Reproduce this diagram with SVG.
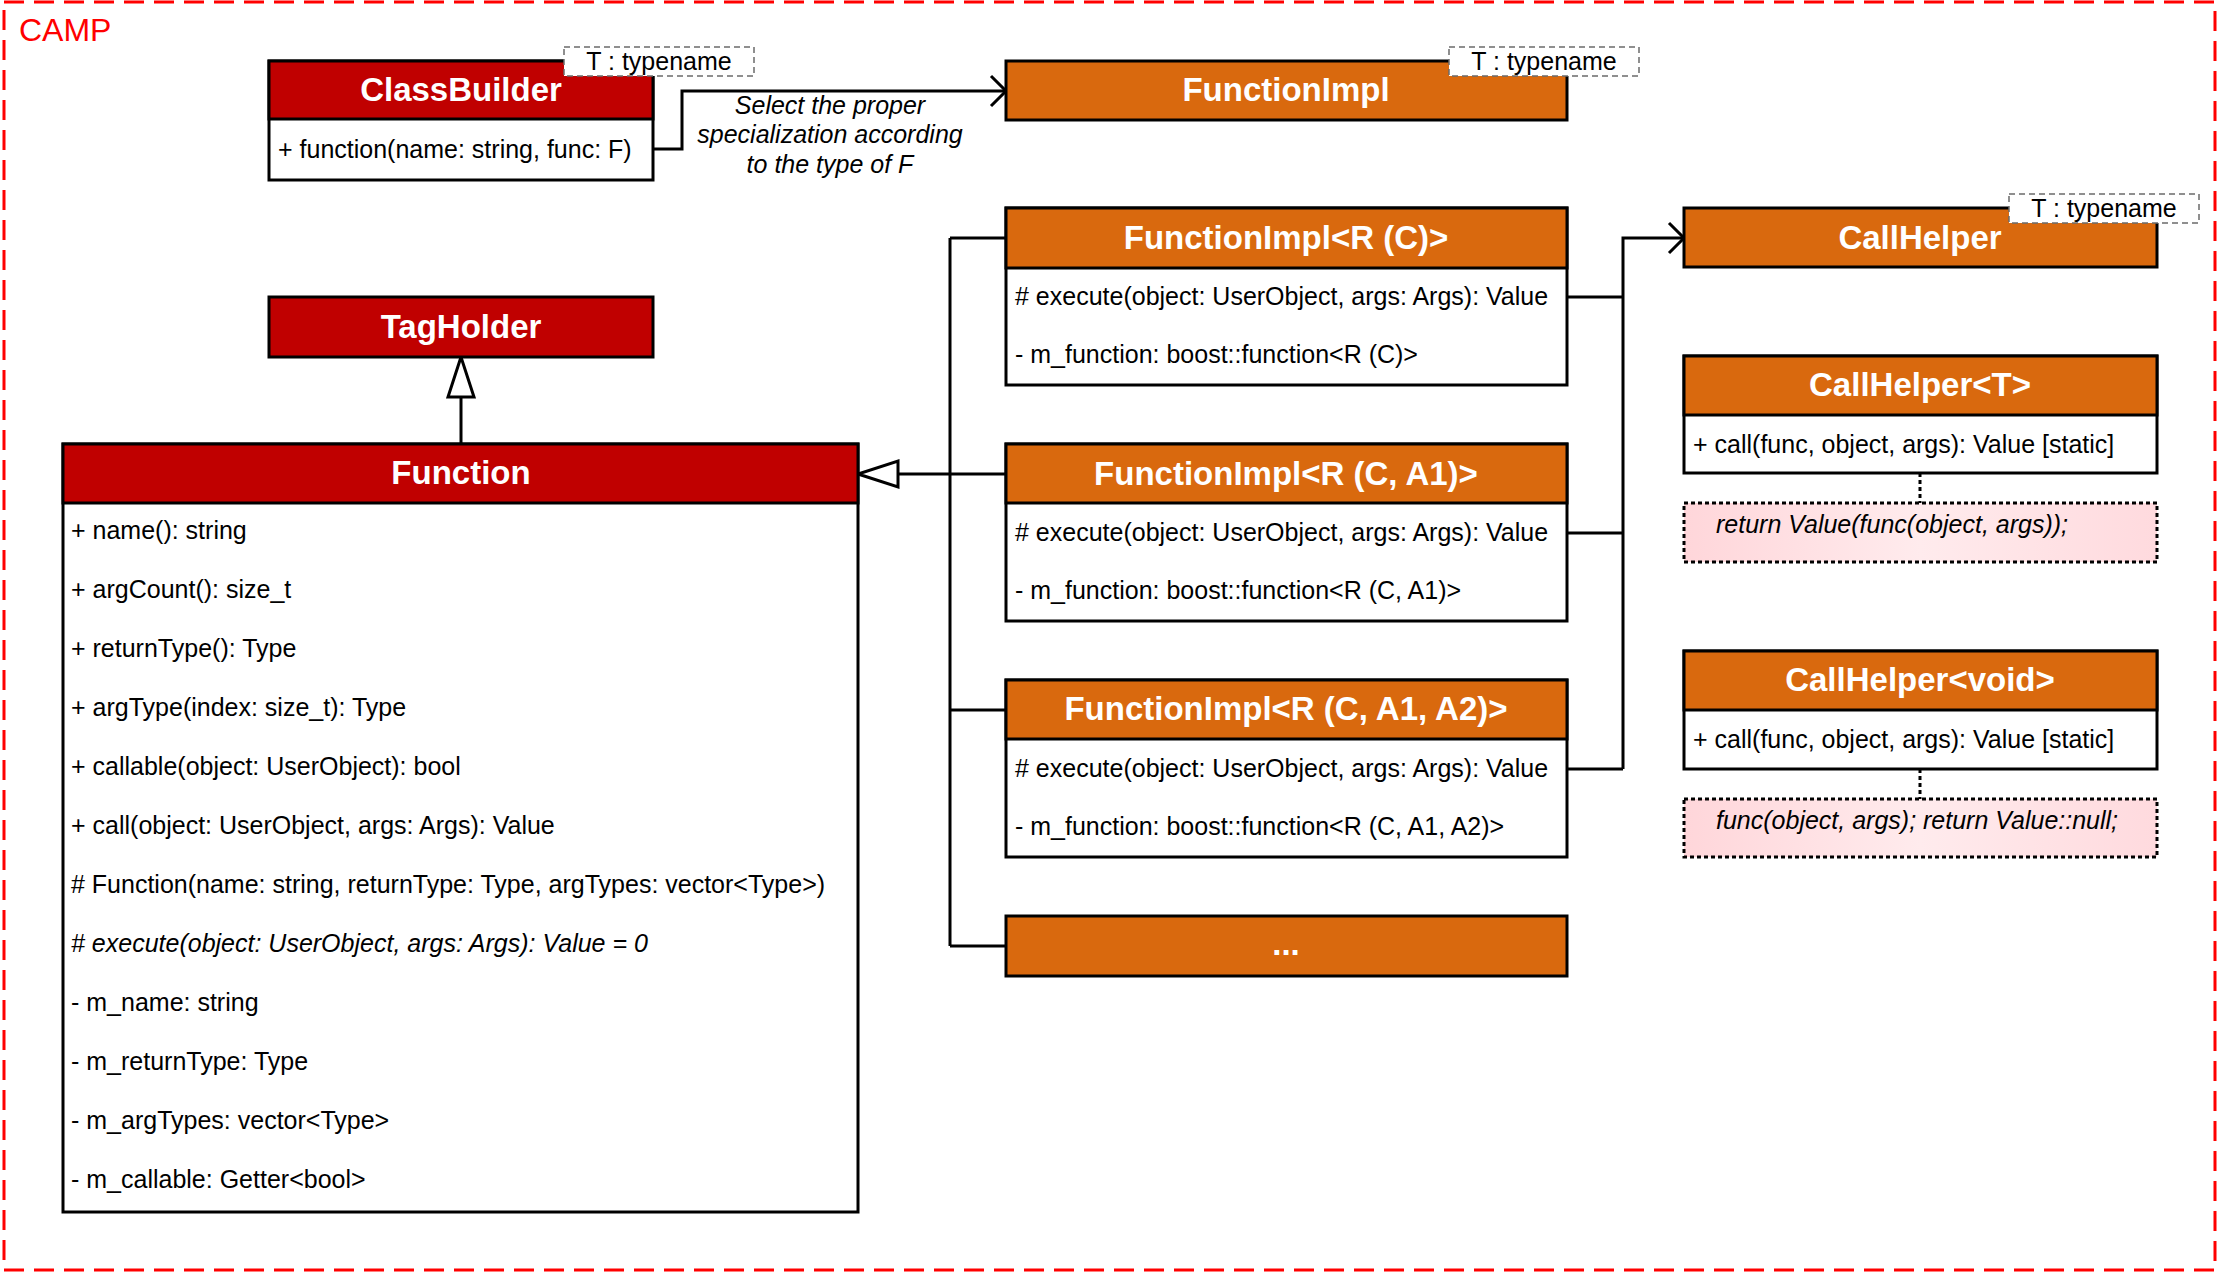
<svg xmlns="http://www.w3.org/2000/svg" width="2219" height="1272" viewBox="0 0 2219 1272">
  <defs>
    <style>
      text { font-family: "Liberation Sans", Arial, sans-serif; }
      .frame { fill: none; stroke: #FF0000; stroke-width: 3; stroke-dasharray: 20 10; }
      .pkg { font-size: 32px; fill: #FF0000; }
      .box { fill: #FFFFFF; stroke: #000; stroke-width: 3; }
      .red { fill: #C00000; stroke: #000; stroke-width: 3; }
      .org { fill: #D9690E; stroke: #000; stroke-width: 3; }
      .title { font-size: 33px; font-weight: bold; fill: #FFFFFF; text-anchor: middle; }
      .mem { font-size: 25px; fill: #000; }
      .it { font-style: italic; }
      .tpl { fill: #FFFFFF; stroke: #6B6B6B; stroke-width: 1.5; stroke-dasharray: 6 4; }
      .tpl-t { font-size: 25px; fill: #000; text-anchor: middle; }
      .note { fill: url(#noteFill); stroke: #000; stroke-width: 3; stroke-dasharray: 4 3; }
      .link { fill: none; stroke: #000; stroke-width: 3; }
      .dot { fill: none; stroke: #000; stroke-width: 3; stroke-dasharray: 4 3; }
      .label { font-size: 25px; font-style: italic; fill: #000; text-anchor: middle; }
    </style>
    <linearGradient id="noteFill" x1="0" y1="0" x2="1" y2="0">
      <stop offset="0" stop-color="#FFD6DA"/>
      <stop offset="0.5" stop-color="#FFEBED"/>
      <stop offset="1" stop-color="#FFDADE"/>
    </linearGradient>
    <!-- open arrowhead (dependency) -->
    <marker id="open" viewBox="-18 -18 20 36" refX="0" refY="0" markerWidth="20" markerHeight="36" markerUnits="userSpaceOnUse" orient="auto" overflow="visible">
      <path d="M-15,-15 L0,0 L-15,15" fill="none" stroke="#000" stroke-width="3"/>
    </marker>
    <!-- hollow triangle (generalization) -->
    <marker id="inherit" viewBox="-44 -16 46 32" refX="0" refY="0" markerWidth="46" markerHeight="32" markerUnits="userSpaceOnUse" orient="auto" overflow="visible">
      <path d="M0,0 L-40,-13 L-40,13 Z" fill="#FFFFFF" stroke="#000" stroke-width="3"/>
    </marker>
  </defs>

  <rect width="2219" height="1272" fill="#FFFFFF"/>

  <!-- package frame -->
  <g id="camp">
    <rect class="frame" x="4" y="2" width="2211" height="1268"/>
    <text class="pkg" x="19" y="41">CAMP</text>
  </g>

  <!-- connectors -->
  <g id="connectors">
    <!-- ClassBuilder::function selects a FunctionImpl specialization -->
    <path class="link" d="M653,149 H682 V91 H1006" marker-end="url(#open)"/>
    <!-- Function generalizes TagHolder -->
    <path class="link" d="M461,444 V357" marker-end="url(#inherit)"/>
    <!-- FunctionImpl specializations derive from Function -->
    <path class="link" d="M950,474 H858" marker-end="url(#inherit)"/>
    <path class="link" d="M950,238 V946"/>
    <path class="link" d="M950,238 H1006 M950,474 H1006 M950,710 H1006 M950,946 H1006"/>
    <!-- execute() uses CallHelper -->
    <path class="link" d="M1567,297 H1623 M1567,533 H1623 M1567,769 H1623"/>
    <path class="link" d="M1623,769 V238 H1684" marker-end="url(#open)"/>
    <!-- notes attached to CallHelper specializations -->
    <path class="dot" d="M1920,473 V503"/>
    <path class="dot" d="M1920,769 V799"/>
    <text class="label" x="830" y="114">Select the proper</text>
    <text class="label" x="830" y="143">specialization according</text>
    <text class="label" x="830" y="173">to the type of F</text>
  </g>

  <!-- ClassBuilder -->
  <g id="ClassBuilder">
    <rect class="box" x="269" y="61" width="384" height="119"/>
    <rect class="red" x="269" y="61" width="384" height="58"/>
    <text class="title" x="461" y="101">ClassBuilder</text>
    <text class="mem" x="278" y="158">+ function(name: string, func: F)</text>
    <rect class="tpl" x="564" y="47" width="190" height="29"/>
    <text class="tpl-t" x="659" y="70">T : typename</text>
  </g>

  <!-- TagHolder -->
  <g id="TagHolder">
    <rect class="red" x="269" y="297" width="384" height="60"/>
    <text class="title" x="461" y="338">TagHolder</text>
  </g>

  <!-- Function -->
  <g id="Function">
    <rect class="box" x="63" y="444" width="795" height="768"/>
    <rect class="red" x="63" y="444" width="795" height="59"/>
    <text class="title" x="461" y="484">Function</text>
    <text class="mem" x="71" y="539">+ name(): string</text>
    <text class="mem" x="71" y="598">+ argCount(): size_t</text>
    <text class="mem" x="71" y="657">+ returnType(): Type</text>
    <text class="mem" x="71" y="716">+ argType(index: size_t): Type</text>
    <text class="mem" x="71" y="775">+ callable(object: UserObject): bool</text>
    <text class="mem" x="71" y="834">+ call(object: UserObject, args: Args): Value</text>
    <text class="mem" x="71" y="893"># Function(name: string, returnType: Type, argTypes: vector&lt;Type&gt;)</text>
    <text class="mem it" x="71" y="952"># execute(object: UserObject, args: Args): Value = 0</text>
    <text class="mem" x="71" y="1011">- m_name: string</text>
    <text class="mem" x="71" y="1070">- m_returnType: Type</text>
    <text class="mem" x="71" y="1129">- m_argTypes: vector&lt;Type&gt;</text>
    <text class="mem" x="71" y="1188">- m_callable: Getter&lt;bool&gt;</text>
  </g>

  <!-- FunctionImpl (primary template) -->
  <g id="FunctionImpl">
    <rect class="org" x="1006" y="61" width="561" height="59"/>
    <text class="title" x="1286" y="101">FunctionImpl</text>
    <rect class="tpl" x="1449" y="47" width="190" height="29"/>
    <text class="tpl-t" x="1544" y="70">T : typename</text>
  </g>

  <!-- FunctionImpl<R (C)> -->
  <g id="FunctionImpl_R_C">
    <rect class="box" x="1006" y="208" width="561" height="177"/>
    <rect class="org" x="1006" y="208" width="561" height="60"/>
    <text class="title" x="1286" y="249">FunctionImpl&lt;R (C)&gt;</text>
    <text class="mem" x="1015" y="305"># execute(object: UserObject, args: Args): Value</text>
    <text class="mem" x="1015" y="363">- m_function: boost::function&lt;R (C)&gt;</text>
  </g>

  <!-- FunctionImpl<R (C, A1)> -->
  <g id="FunctionImpl_R_C_A1">
    <rect class="box" x="1006" y="444" width="561" height="177"/>
    <rect class="org" x="1006" y="444" width="561" height="59"/>
    <text class="title" x="1286" y="485">FunctionImpl&lt;R (C, A1)&gt;</text>
    <text class="mem" x="1015" y="541"># execute(object: UserObject, args: Args): Value</text>
    <text class="mem" x="1015" y="599">- m_function: boost::function&lt;R (C, A1)&gt;</text>
  </g>

  <!-- FunctionImpl<R (C, A1, A2)> -->
  <g id="FunctionImpl_R_C_A1_A2">
    <rect class="box" x="1006" y="680" width="561" height="177"/>
    <rect class="org" x="1006" y="680" width="561" height="59"/>
    <text class="title" x="1286" y="720">FunctionImpl&lt;R (C, A1, A2)&gt;</text>
    <text class="mem" x="1015" y="777"># execute(object: UserObject, args: Args): Value</text>
    <text class="mem" x="1015" y="835">- m_function: boost::function&lt;R (C, A1, A2)&gt;</text>
  </g>

  <!-- further specializations -->
  <g id="FunctionImpl_more">
    <rect class="org" x="1006" y="916" width="561" height="60"/>
    <text class="title" x="1286" y="955">...</text>
  </g>

  <!-- CallHelper (primary template) -->
  <g id="CallHelper">
    <rect class="org" x="1684" y="208" width="473" height="59"/>
    <text class="title" x="1920" y="249">CallHelper</text>
    <rect class="tpl" x="2009" y="194" width="190" height="29"/>
    <text class="tpl-t" x="2104" y="217">T : typename</text>
  </g>

  <!-- CallHelper<T> -->
  <g id="CallHelper_T">
    <rect class="box" x="1684" y="356" width="473" height="117"/>
    <rect class="org" x="1684" y="356" width="473" height="59"/>
    <text class="title" x="1920" y="396">CallHelper&lt;T&gt;</text>
    <text class="mem" x="1693" y="453">+ call(func, object, args): Value [static]</text>
  </g>
  <g id="CallHelper_T_note">
    <rect class="note" x="1684" y="503" width="473" height="59"/>
    <text class="mem it" x="1716" y="533">return Value(func(object, args));</text>
  </g>

  <!-- CallHelper<void> -->
  <g id="CallHelper_void">
    <rect class="box" x="1684" y="651" width="473" height="118"/>
    <rect class="org" x="1684" y="651" width="473" height="59"/>
    <text class="title" x="1920" y="691">CallHelper&lt;void&gt;</text>
    <text class="mem" x="1693" y="748">+ call(func, object, args): Value [static]</text>
  </g>
  <g id="CallHelper_void_note">
    <rect class="note" x="1684" y="799" width="473" height="58"/>
    <text class="mem it" x="1716" y="829">func(object, args); return Value::null;</text>
  </g>
</svg>
